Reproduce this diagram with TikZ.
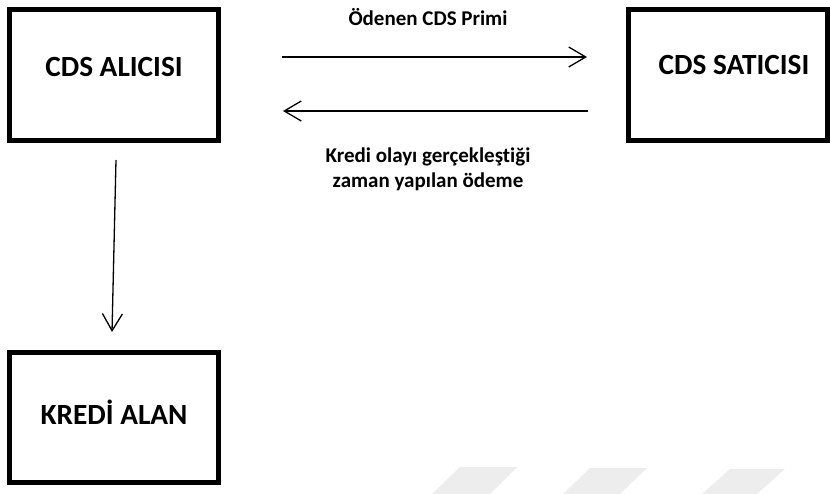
\documentclass[tikz,border=0pt]{standalone}
\usepackage{fontspec}
\setmainfont[Ligatures=NoCommon]{Carlito}
\usetikzlibrary{arrows.meta,positioning}
\begin{document}
\begin{tikzpicture}[x=1pt,y=-1pt,
  actor/.style={draw=black,line width=5pt,rectangle,minimum width=209pt,minimum height=131pt,inner sep=0pt},
  boxtext/.style={font=\fontsize{29.3}{34}\selectfont\bfseries,inner sep=0pt},
  labeltext/.style={font=\fontsize{21}{25}\selectfont\bfseries,align=center,inner sep=0pt},
  flow/.style={line width=1.3pt,-{Straight Barb[length=17pt,width=20pt,line width=1.3pt]}},
  wmark/.style={fill=black!7,draw=none}]
\useasboundingbox (0,0) rectangle (830,494);
% watermark
\fill[wmark] (460,467) -- (517,467) -- (490,494) -- (432,494) -- cycle;
\fill[wmark] (590,468) -- (647,468) -- (620,494) -- (563,494) -- cycle;
\fill[wmark] (730,469) -- (785,469) -- (757,494) -- (702,494) -- cycle;
% boxes
\node[actor] (alici) at (114,75) {};
\node[actor,minimum width=199pt] (satici) at (728,75) {};
\node[actor,minimum height=130pt] (kredi) at (114,417.5) {};
\node[boxtext] (alicitxt) at ([yshift=8pt]alici.center) {CDS ALICISI};
\node[boxtext] (saticitxt) at ([xshift=6pt,yshift=10pt]satici.center) {CDS SATICISI};
\node[boxtext] (kreditxt) at ([yshift=5.5pt]kredi.center) {KREDİ ALAN};
% arrows
\draw[flow] ([shift={(61,-18)}]alici.east) -- ([shift={(-39,-18)}]satici.west);
\draw[flow] ([shift={(-38,36)}]satici.west) -- ([shift={(62,36)}]alici.east);
\draw[flow] ([shift={(2,17)}]alici.south) -- ([shift={(-2,-18)}]kredi.north);
% labels
\node[labeltext] (prim) at (428,17) {Ödenen CDS Primi};
\node[labeltext] (odeme) at (428,169.5) {Kredi olayı gerçekleştiği\\zaman yapılan ödeme};
\end{tikzpicture}
\end{document}
